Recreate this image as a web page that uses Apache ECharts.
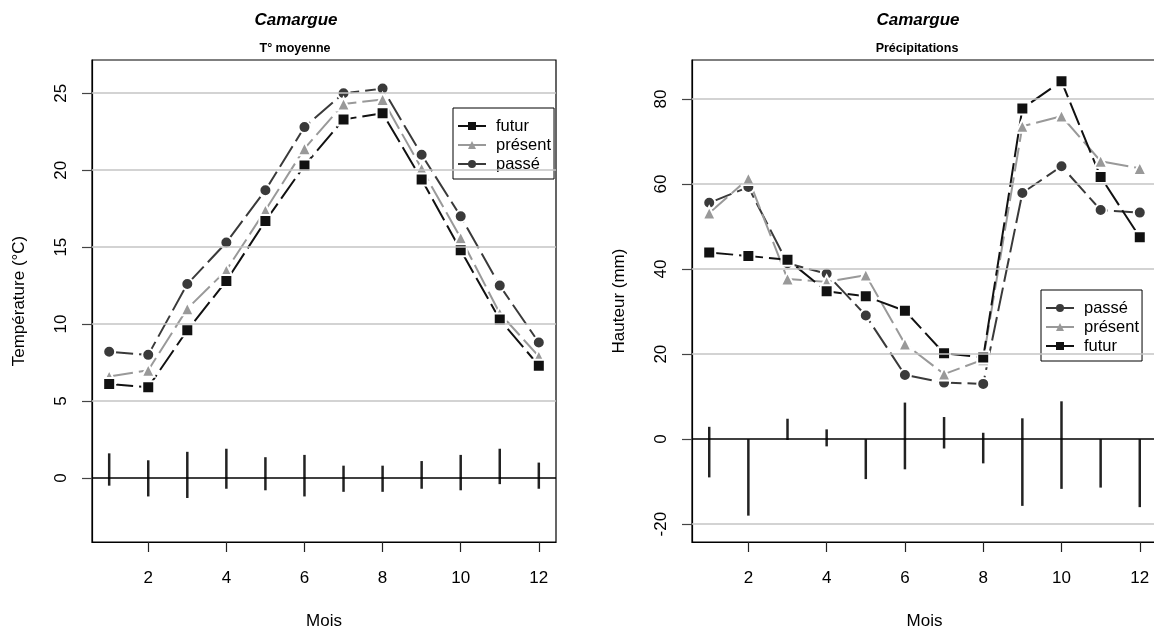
<!DOCTYPE html>
<html>
<head>
<meta charset="utf-8">
<title>Camargue</title>
<script src="https://cdn.jsdelivr.net/npm/echarts@6/dist/echarts.min.js"></script>
<style>
  html, body { margin: 0; padding: 0; background: #fff; }
  #chart { width: 1154px; height: 636px; }
</style>
</head>
<body>
<div id="chart"></div>
<script>
  // mois
  var months = [1, 2, 3, 4, 5, 6, 7, 8, 9, 10, 11, 12];
  var xTicks = [2, 4, 6, 8, 10, 12];

  // T° moyenne (°C)
  var tempPasse = [8.2, 8.0, 12.6, 15.3, 18.7, 22.8, 25.0, 25.3, 21.0, 17.0, 12.5, 8.8];
  var tempPresent = [6.6, 7.0, 11.0, 13.5, 17.4, 21.4, 24.3, 24.6, 20.1, 15.6, 10.7, 7.9];
  var tempFutur = [6.1, 5.9, 9.6, 12.8, 16.7, 20.3, 23.3, 23.7, 19.4, 14.8, 10.3, 7.3];
  var tempLow = [-0.5, -1.2, -1.3, -0.7, -0.8, -1.2, -0.9, -0.9, -0.7, -0.8, -0.4, -0.7];
  var tempHigh = [1.6, 1.15, 1.7, 1.9, 1.35, 1.5, 0.8, 0.8, 1.1, 1.5, 1.9, 1.0];
  var tempTicks = [0, 5, 10, 15, 20, 25];

  // Précipitations (mm)
  var pluiePasse = [55.6, 59.3, 41.4, 38.9, 29.1, 15.1, 13.3, 13.0, 57.9, 64.2, 53.9, 53.3];
  var pluiePresent = [53.2, 61.3, 37.7, 37.0, 38.6, 22.4, 15.3, 18.7, 73.6, 76.0, 65.4, 63.7];
  var pluieFutur = [43.9, 43.1, 42.2, 34.8, 33.6, 30.2, 20.2, 19.2, 77.8, 84.2, 61.7, 47.5];
  var pluieLow = [-9.0, -18.0, -0.2, -1.7, -9.4, -7.1, -2.2, -5.7, -15.7, -11.7, -11.4, -16.0];
  var pluieHigh = [2.9, 0, 4.8, 2.3, 0, 8.6, 5.2, 1.5, 4.9, 8.9, 0, 0];
  var pluieTicks = [-20, 0, 20, 40, 60, 80];

  var FONT = 'Liberation Sans, Arial, sans-serif';

  function pairs(ys) {
    return months.map(function (m, i) { return [m, ys[i]]; });
  }
  function segs(lo, hi) {
    return months.map(function (m, i) { return [m, lo[i], hi[i]]; });
  }

  function lineSerie(name, idx, ys, color, symbol, size) {
    return {
      name: name,
      type: 'line',
      xAxisIndex: idx,
      yAxisIndex: idx,
      data: pairs(ys),
      symbol: symbol,
      symbolSize: size,
      showSymbol: true,
      z: 4,
      lineStyle: { color: color, width: 2, type: [24, 6] },
      itemStyle: { color: color, borderColor: '#fff', borderWidth: 2 }
    };
  }

  // traits verticaux (écarts)
  function segSerie(idx, lo, hi) {
    return {
      type: 'custom',
      xAxisIndex: idx,
      yAxisIndex: idx,
      z: 3,
      silent: true,
      data: segs(lo, hi),
      renderItem: function (params, api) {
        var p1 = api.coord([api.value(0), api.value(1)]);
        var p2 = api.coord([api.value(0), api.value(2)]);
        return {
          type: 'line',
          shape: { x1: p1[0], y1: p1[1], x2: p2[0], y2: p2[1] },
          style: { stroke: '#222', lineWidth: 2.5 }
        };
      }
    };
  }

  // lignes de grille grises + ligne du zéro
  function gridSerie(idx, ticks) {
    var lines = ticks.filter(function (v) { return v !== 0; }).map(function (v) {
      return { yAxis: v, lineStyle: { color: '#c4c4c4', width: 1.5, type: 'solid' } };
    });
    lines.push({ yAxis: 0, lineStyle: { color: '#000', width: 1.5, type: 'solid' } });
    return {
      type: 'line',
      xAxisIndex: idx,
      yAxisIndex: idx,
      data: [],
      z: 1,
      silent: true,
      markLine: {
        silent: true,
        symbol: ['none', 'none'],
        label: { show: false },
        animation: false,
        data: lines
      }
    };
  }

  function xAx(idx) {
    return {
      type: 'value',
      gridIndex: idx,
      min: 0.56,
      max: 12.44,
      name: 'Mois',
      nameLocation: 'middle',
      nameGap: 71,
      nameTextStyle: { fontFamily: FONT, fontSize: 17, color: '#000' },
      axisLine: { show: true, onZero: false, lineStyle: { color: '#000', width: 1.2 } },
      splitLine: { show: false },
      axisTick: { show: true, inside: false, length: 10, customValues: xTicks, lineStyle: { color: '#222', width: 1.2 } },
      axisLabel: { customValues: xTicks, margin: 28, fontFamily: FONT, fontSize: 17, color: '#000' }
    };
  }

  function yAx(idx, name, min, max, ticks) {
    return {
      type: 'value',
      gridIndex: idx,
      min: min,
      max: max,
      name: name,
      nameLocation: 'middle',
      nameGap: 64,
      nameTextStyle: { fontFamily: FONT, fontSize: 17, color: '#000' },
      axisLine: { show: true, onZero: false, lineStyle: { color: '#000', width: 1.2 } },
      splitLine: { show: false },
      axisTick: { show: true, inside: false, length: 10, customValues: ticks, lineStyle: { color: '#444', width: 1.2 } },
      axisLabel: { customValues: ticks, rotate: 90, margin: 22, fontFamily: FONT, fontSize: 17, color: '#000' }
    };
  }

  var legendCommon = {
    orient: 'vertical',
    borderColor: '#000',
    borderWidth: 1,
    itemWidth: 28,
    itemHeight: 10,
    itemGap: 1,
    padding: [9, 3, 6, 4],
    textStyle: { fontFamily: FONT, fontSize: 16.5, color: '#000', lineHeight: 18, padding: [0, 0, 0, 5] },
    lineStyle: { type: 'solid' },
    itemStyle: { borderWidth: 0 }
  };

  var chart = echarts.init(document.getElementById('chart'), null, { renderer: 'canvas' });
  chart.setOption({
    animation: false,
    backgroundColor: '#fff',
    grid: [
      { left: 92, top: 60, width: 464, height: 482, show: true, borderColor: '#000', borderWidth: 1.2, backgroundColor: 'transparent', containLabel: false, outerBoundsMode: 'none' },
      { left: 692, top: 60, width: 465, height: 482, show: true, borderColor: '#000', borderWidth: 1.2, backgroundColor: 'transparent', containLabel: false, outerBoundsMode: 'none' }
    ],
    xAxis: [xAx(0), xAx(1)],
    yAxis: [
      yAx(0, 'Température (°C)', -4.16, 27.16, tempTicks),
      yAx(1, 'Hauteur (mm)', -24.2, 89.2, pluieTicks)
    ],
    legend: [
      Object.assign({}, legendCommon, { left: 453, top: 108, data: ['futur', 'présent', 'passé'] }),
      Object.assign({}, legendCommon, { left: 1041, top: 290, data: ['passé', 'présent', 'futur'] })
    ],
    graphic: [
      { type: 'text', x: 296, y: 20, style: { text: 'Camargue', fontFamily: FONT, fontSize: 17, fontWeight: 'bold', fontStyle: 'italic', fill: '#000', align: 'center', verticalAlign: 'middle' } },
      { type: 'text', x: 295, y: 49, style: { text: 'T° moyenne', fontFamily: FONT, fontSize: 12.5, fontWeight: 'bold', fill: '#000', align: 'center', verticalAlign: 'middle' } },
      { type: 'text', x: 918, y: 20, style: { text: 'Camargue', fontFamily: FONT, fontSize: 17, fontWeight: 'bold', fontStyle: 'italic', fill: '#000', align: 'center', verticalAlign: 'middle' } },
      { type: 'text', x: 917, y: 49, style: { text: 'Précipitations', fontFamily: FONT, fontSize: 12.5, fontWeight: 'bold', fill: '#000', align: 'center', verticalAlign: 'middle' } }
    ],
    series: [
      gridSerie(0, tempTicks),
      segSerie(0, tempLow, tempHigh),
      lineSerie('passé', 0, tempPasse, '#3a3a3a', 'circle', 12),
      lineSerie('présent', 0, tempPresent, '#999999', 'triangle', 13),
      lineSerie('futur', 0, tempFutur, '#111111', 'rect', 12),

      gridSerie(1, pluieTicks),
      segSerie(1, pluieLow, pluieHigh),
      lineSerie('passé', 1, pluiePasse, '#3a3a3a', 'circle', 12),
      lineSerie('présent', 1, pluiePresent, '#999999', 'triangle', 13),
      lineSerie('futur', 1, pluieFutur, '#111111', 'rect', 12)
    ]
  });
</script>
</body>
</html>
